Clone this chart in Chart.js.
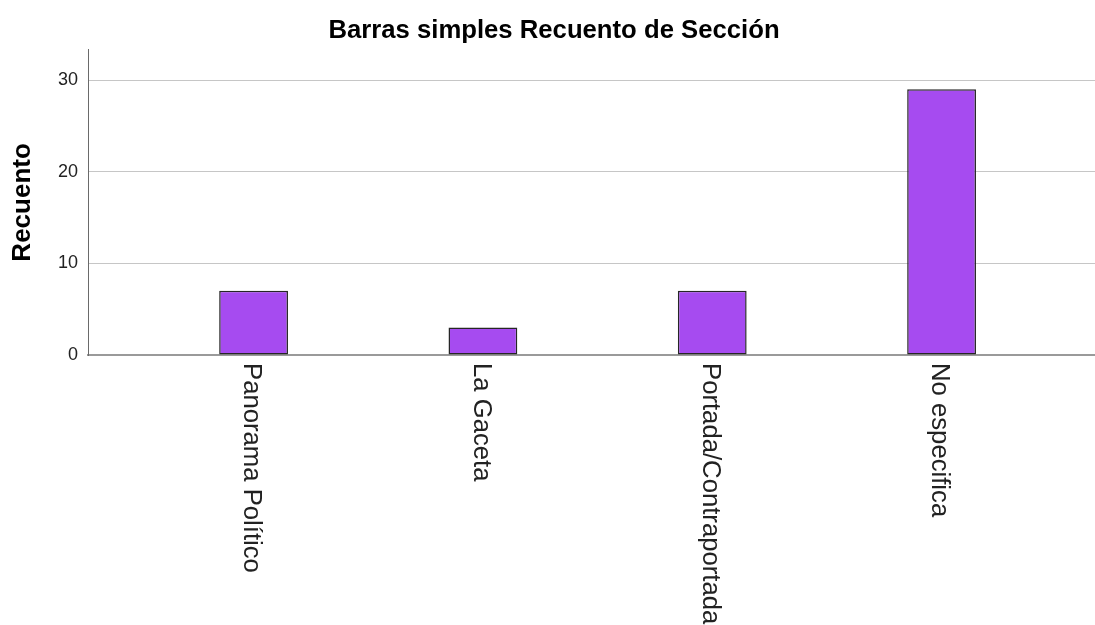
<!DOCTYPE html>
<html>
<head>
<meta charset="utf-8">
<script src="https://cdn.jsdelivr.net/npm/chart.js@4"></script>
<style>
  body { margin: 0; background: #fff; }
  #chart { display: block; }
</style>
</head>
<body>
<canvas id="chart" width="1095" height="625"></canvas>
<script>
const categories = ['Panorama Político', 'La Gaceta', 'Portada/Contraportada', 'No especifica'];
const counts = [7, 3, 7, 29];
const yTicks = [0, 10, 20, 30];

const FONT = "'Liberation Sans', Arial, sans-serif";

// bars sit on a linear x axis so the SPSS-like side margins can be reproduced
const points = counts.map((v, i) => ({ x: i + 1, y: v }));

// draws the category names rotated clockwise (reading top to bottom)
const catLabels = {
    id: 'catLabels',
    afterDraw(chart) {
        const ctx = chart.ctx, sx = chart.scales.x, top = chart.chartArea.bottom + 8;
        ctx.save();
        ctx.font = '25.7px ' + FONT;
        ctx.fillStyle = '#222';
        ctx.textAlign = 'left';
        ctx.textBaseline = 'middle';
        categories.forEach((c, i) => {
            ctx.save();
            ctx.translate(sx.getPixelForValue(i + 1) - 2, top);
            ctx.rotate(Math.PI / 2);
            ctx.fillText(c, 0, 0);
            ctx.restore();
        });
        ctx.restore();
    }
};

new Chart(document.getElementById('chart').getContext('2d'), {
    type: 'bar',
    data: {
        datasets: [{
            label: 'Recuento',
            data: points,
            backgroundColor: '#a64bf0',
            borderColor: '#262626',
            borderWidth: 1.5,
            borderSkipped: false,
            barPercentage: 0.3,
            categoryPercentage: 1
        }]
    },
    options: {
        responsive: false,
        animation: false,
        devicePixelRatio: 1,
        layout: { padding: { left: 13, right: 0, top: 0, bottom: 0 } },
        plugins: {
            legend: { display: false },
            tooltip: { enabled: false },
            title: {
                display: true,
                text: 'Barras simples Recuento de Sección',
                color: '#000',
                font: { family: FONT, size: 25.7, weight: 'bold' },
                padding: { top: 15, bottom: 4 }
            }
        },
        scales: {
            x: {
                type: 'linear',
                offset: false,
                min: 0.278,
                max: 4.669,
                ticks: { display: false, stepSize: 1, includeBounds: false },
                grid: { display: false, drawTicks: false },
                border: { display: true, color: '#9a9a9a', width: 2 },
                afterFit: s => { s.height = 270; }
            },
            y: {
                min: 0,
                max: 33.3,
                afterBuildTicks: s => { s.ticks = yTicks.map(v => ({ value: v })); },
                ticks: {
                    color: '#222',
                    padding: 10,
                    font: { family: FONT, size: 18 }
                },
                grid: {
                    drawTicks: false,
                    lineWidth: 1,
                    color: c => c.tick && c.tick.value === 0 ? 'rgba(0,0,0,0)' : '#c6c6c6'
                },
                border: { display: true, color: '#6a6a6a', width: 1 },
                title: {
                    display: true,
                    text: 'Recuento',
                    color: '#000',
                    font: { family: FONT, size: 26, weight: 'bold' },
                    padding: { top: -6, bottom: 0 }
                },
                afterFit: s => { s.width = 75; }
            }
        }
    },
    plugins: [catLabels]
});
</script>
</body>
</html>
